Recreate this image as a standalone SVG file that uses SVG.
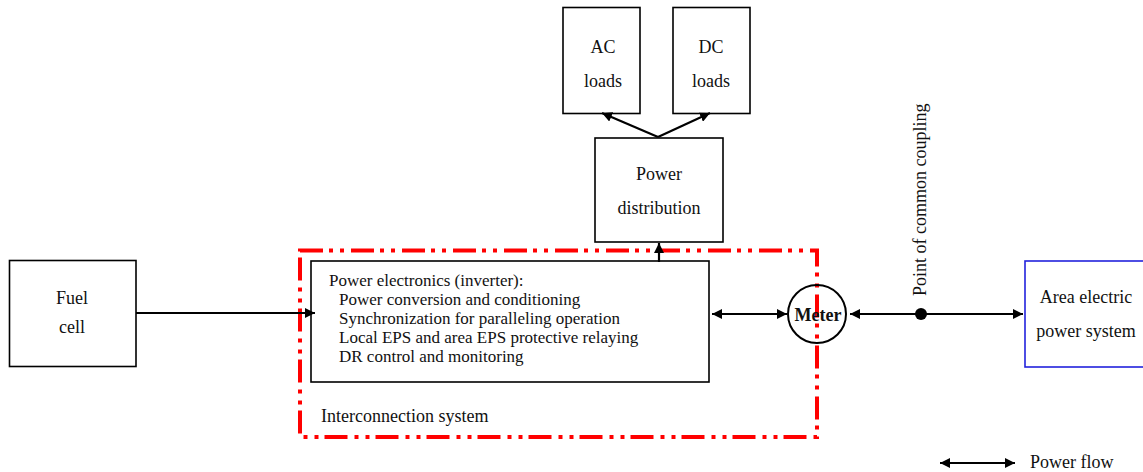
<svg xmlns="http://www.w3.org/2000/svg" width="1143" height="472" viewBox="0 0 1143 472">
<style>
  text { font-family: "Liberation Serif", "Times New Roman", serif; font-size: 18px; fill: #111; }
  .box { fill: #fff; stroke: #000; stroke-width: 1.6; }
  .conn { stroke: #000; stroke-width: 2.2; fill: none; }
  .mid { text-anchor: middle; }
  .pe { font-size: 17px; }
</style>
<defs>
  <marker id="ah" viewBox="0 0 10 10" refX="10" refY="5" markerWidth="10" markerHeight="10" markerUnits="userSpaceOnUse" orient="auto-start-reverse">
    <path d="M0,0 L10,5 L0,10 z" fill="#000"/>
  </marker>
</defs>
<rect width="1143" height="472" fill="#fff"/>

<g id="interconnection-system">
  <rect x="300" y="250.5" width="517" height="186.5" fill="none" stroke="#ff0000" stroke-width="4" stroke-dasharray="23 6 4 7 4 7"/>
  <text x="321" y="422">Interconnection system</text>
</g>

<g id="fuel-cell">
  <rect class="box" x="9.5" y="260.5" width="126.5" height="106"/>
  <text class="mid" x="72" y="304">Fuel</text>
  <text class="mid" x="72" y="333">cell</text>
</g>

<g id="power-electronics">
  <rect class="box" x="311" y="261" width="398" height="121"/>
  <text class="pe" x="329" y="286">Power electronics (inverter):</text>
  <text class="pe" x="339" y="305">Power conversion and conditioning</text>
  <text class="pe" x="339" y="324">Synchronization for paralleling operation</text>
  <text class="pe" x="339" y="343">Local EPS and area EPS protective relaying</text>
  <text class="pe" x="339" y="362">DR control and monitoring</text>
</g>

<g id="power-distribution">
  <rect class="box" x="595" y="138" width="128" height="104"/>
  <text class="mid" x="659" y="180">Power</text>
  <text class="mid" x="659" y="214">distribution</text>
</g>

<g id="ac-loads">
  <rect class="box" x="563" y="7.5" width="77" height="106"/>
  <text class="mid" x="603" y="53">AC</text>
  <text class="mid" x="603" y="87">loads</text>
</g>

<g id="dc-loads">
  <rect class="box" x="673" y="7.5" width="77" height="106"/>
  <text class="mid" x="711" y="53">DC</text>
  <text class="mid" x="711" y="87">loads</text>
</g>

<g id="meter">
  <circle cx="817" cy="314" r="29" fill="none" stroke="#000" stroke-width="2"/>
  <text class="mid" x="818" y="320.5" font-weight="bold">Meter</text>
</g>

<g id="area-eps">
  <rect x="1025" y="261" width="130" height="106" fill="#fff" stroke="#2222dd" stroke-width="1.6"/>
  <text class="mid" x="1086" y="303">Area electric</text>
  <text class="mid" x="1086" y="337">power system</text>
</g>

<g id="pcc">
  <circle cx="921" cy="314" r="6" fill="#000"/>
  <text transform="translate(926,296) rotate(-90)" font-size="16">Point of common coupling</text>
</g>

<g id="connectors">
  <line class="conn" x1="136" y1="313" x2="315" y2="313" marker-end="url(#ah)"/>
  <line class="conn" x1="659" y1="262" x2="659" y2="243" marker-end="url(#ah)"/>
  <line class="conn" x1="658" y1="137" x2="602" y2="113" marker-end="url(#ah)"/>
  <line class="conn" x1="658" y1="137" x2="710" y2="113" marker-end="url(#ah)"/>
  <line class="conn" x1="712" y1="314" x2="787" y2="314" marker-start="url(#ah)" marker-end="url(#ah)"/>
  <line class="conn" x1="850" y1="314" x2="1023" y2="314" marker-start="url(#ah)" marker-end="url(#ah)"/>
</g>

<g id="legend">
  <line class="conn" x1="940" y1="463" x2="1015" y2="463" marker-start="url(#ah)" marker-end="url(#ah)"/>
  <text x="1030" y="468">Power flow</text>
</g>
</svg>
